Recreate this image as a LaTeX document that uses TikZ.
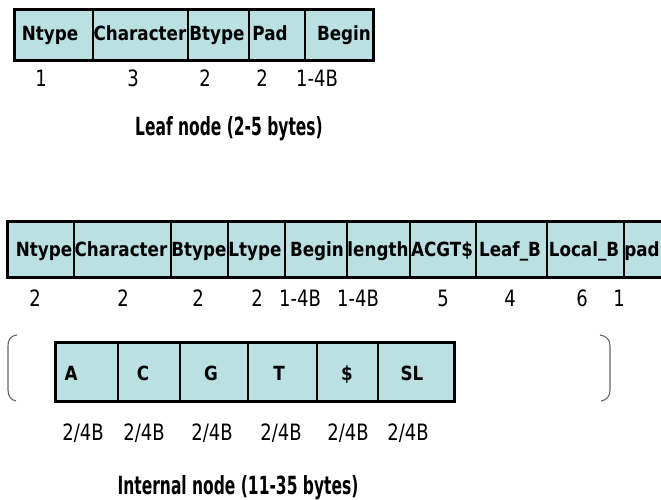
\documentclass[tikz,border=0pt]{standalone}
\usepackage{fontspec}
\setmainfont{DejaVu Sans}
\newfontfamily\cellfont[FakeStretch=0.86]{DejaVu Sans}
\newfontfamily\numfont[FakeStretch=0.8]{DejaVu Sans}
\newfontfamily\capfont[FakeStretch=0.62]{DejaVu Sans}
\definecolor{cellfill}{RGB}{186,224,226}
\begin{document}
\begin{tikzpicture}[x=1bp,y=-1bp,
  cellst/.style={draw=black, line width=1.6bp, fill=cellfill, inner sep=0pt, anchor=north west},
  framest/.style={draw=black, line width=2.6bp},
  txt/.style={font=\cellfont\bfseries\fontsize{19.5bp}{21bp}\selectfont, inner sep=0pt, anchor=base},
  num/.style={font=\numfont\fontsize{22.5bp}{24bp}\selectfont, inner sep=0pt, anchor=base},
  capst/.style={font=\capfont\bfseries\fontsize{25bp}{27bp}\selectfont, inner sep=0pt, anchor=base},
  brk/.style={draw=black!60, line width=1.1bp}]
\useasboundingbox (0,0) rectangle (661,500);
\clip (0,0) rectangle (661,500);

% ---------- Leaf node ----------
\node[cellst, minimum width=78bp, minimum height=50bp] (l1) at (14,9) {};
\node[cellst, minimum width=95bp, minimum height=50bp] (l2) at (92,9) {};
\node[cellst, minimum width=61bp, minimum height=50bp] (l3) at (187,9) {};
\node[cellst, minimum width=56bp, minimum height=50bp] (l4) at (248,9) {};
\node[cellst, minimum width=68bp, minimum height=50bp] (l5) at (304,9) {};
\draw[framest] (l1.north west) rectangle (l5.south east);
\node[txt] (lt1) at (50,41) {Ntype};
\node[txt] (lt2) at (140,41) {Character};
\node[txt] (lt3) at (217,41) {Btype};
\node[txt] (lt4) at (270,41) {Pad};
\node[txt] (lt5) at (344,41) {Begin};
\node[num] (ln1) at (41,87) {1};
\node[num] (ln2) at (133,87) {3};
\node[num] (ln3) at (205,87) {2};
\node[num] (ln4) at (262,87) {2};
\node[num] (ln5) at (317,87) {1-4B};
\node[capst] (lcap) at (229,136) {Leaf node (2-5 bytes)};

% ---------- Internal node ----------
\node[cellst, minimum width=66bp, minimum height=55bp] (i1) at (7,221) {};
\node[cellst, minimum width=97bp, minimum height=55bp] (i2) at (73,221) {};
\node[cellst, minimum width=57bp, minimum height=55bp] (i3) at (170,221) {};
\node[cellst, minimum width=57bp, minimum height=55bp] (i4) at (227,221) {};
\node[cellst, minimum width=62bp, minimum height=55bp] (i5) at (284,221) {};
\node[cellst, minimum width=63bp, minimum height=55bp] (i6) at (346,221) {};
\node[cellst, minimum width=66bp, minimum height=55bp] (i7) at (409,221) {};
\node[cellst, minimum width=71bp, minimum height=55bp] (i8) at (475,221) {};
\node[cellst, minimum width=77bp, minimum height=55bp] (i9) at (546,221) {};
\node[cellst, minimum width=77bp, minimum height=55bp] (i10) at (623,221) {};
\draw[framest] (i1.north west) rectangle (i10.south east);
\node[txt] (it1) at (44,256.5) {Ntype};
\node[txt] (it2) at (121,256.5) {Character};
\node[txt] (it3) at (199,256.5) {Btype};
\node[txt] (it4) at (255,256.5) {Ltype};
\node[txt] (it5) at (317,256.5) {Begin};
\node[txt] (it6) at (378,256.5) {length};
\node[txt] (it7) at (442,256.5) {ACGT\$};
\node[txt] (it8) at (510,256.5) {Leaf\_B};
\node[txt] (it9) at (584,256.5) {Local\_B};
\node[txt] (it10) at (642,256.5) {pad};
\node[num] (in1) at (35,306.5) {2};
\node[num] (in2) at (123,306.5) {2};
\node[num] (in3) at (198,306.5) {2};
\node[num] (in4) at (257,306.5) {2};
\node[num] (in5) at (300,306.5) {1-4B};
\node[num] (in6) at (358,306.5) {1-4B};
\node[num] (in7) at (443,306.5) {5};
\node[num] (in8) at (510,306.5) {4};
\node[num] (in9) at (582,306.5) {6};
\node[num] (in10) at (619,306.5) {1};

% ---------- child pointers ----------
\node[cellst, minimum width=62bp, minimum height=58bp] (c1) at (55,342) {};
\node[cellst, minimum width=62bp, minimum height=58bp] (c2) at (117,342) {};
\node[cellst, minimum width=68bp, minimum height=58bp] (c3) at (179,342) {};
\node[cellst, minimum width=69bp, minimum height=58bp] (c4) at (247,342) {};
\node[cellst, minimum width=61bp, minimum height=58bp] (c5) at (316,342) {};
\node[cellst, minimum width=76bp, minimum height=58bp] (c6) at (377,342) {};
\draw[framest] (c1.north west) rectangle (c6.south east);
\node[txt] (ct1) at (71,380) {A};
\node[txt] (ct2) at (143,380) {C};
\node[txt] (ct3) at (211,380) {G};
\node[txt] (ct4) at (279,380) {T};
\node[txt] (ct5) at (347,380) {\$};
\node[txt] (ct6) at (412,380) {SL};
\node[num] (cn1) at (83,440) {2/4B};
\node[num] (cn2) at (144,440) {2/4B};
\node[num] (cn3) at (212,440) {2/4B};
\node[num] (cn4) at (281,440) {2/4B};
\node[num] (cn5) at (348,440) {2/4B};
\node[num] (cn6) at (408,440) {2/4B};

% brackets
\coordinate (bl1) at (17,335);
\coordinate (bl2) at (16,401);
\coordinate (br1) at (600,335);
\coordinate (br2) at (601,401);
\draw[brk] (bl1) .. controls (10,336) and (8,340) .. (8,346) -- (8,390) .. controls (8,396) and (11,400) .. (bl2);
\draw[brk] (br1) .. controls (607,336) and (610,340) .. (610,346) -- (610,390) .. controls (610,396) and (607,400) .. (br2);

\node[capst] (icap) at (238,494) {Internal node (11-35 bytes)};
\end{tikzpicture}
\end{document}
